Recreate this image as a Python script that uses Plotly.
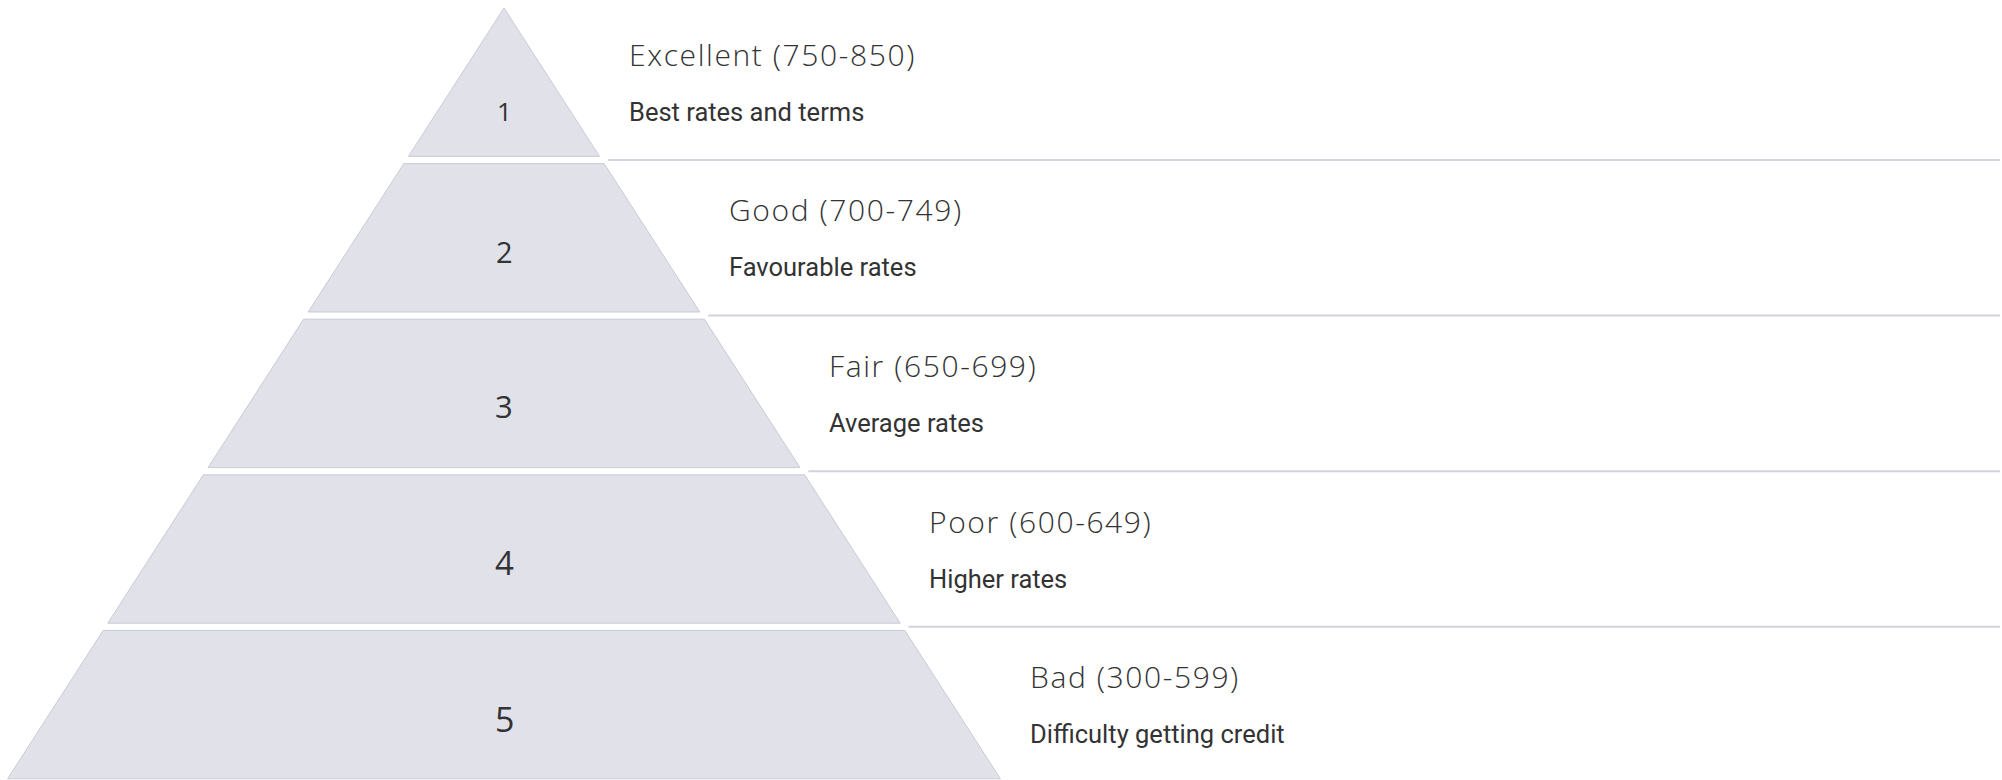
import plotly.graph_objects as go

# ---- data ----
levels = ["1", "2", "3", "4", "5"]
titles = ["Excellent (750-850)", "Good (700-749)", "Fair (650-699)", "Poor (600-649)", "Bad (300-599)"]
descriptions = ["Best rates and terms", "Favourable rates", "Average rates", "Higher rates", "Difficulty getting credit"]
number_sizes = [26, 29, 31, 33, 34]

# ---- geometry (layout, not data) ----
W, H = 2002, 780
apex_x, apex_y = 504, 8
slope = 0.644          # half-width per unit of depth
pitch = 155.6          # vertical pitch of each band
gap = 7.2              # white gap between bands
line_end = 2000

fill_col = "#e0e1e9"
edge_col = "#c9cbd5"
sep_col = "#d2d3db"
text_col = "#333333"

def half(y):
    return (y - apex_y) * slope

fig = go.Figure()
annotations = []
n = len(levels)
for i, lab in enumerate(levels):
    top = apex_y + i * pitch
    bot = top + pitch - gap
    ht, hb = half(top), half(bot)
    xs = [apex_x - ht, apex_x + ht, apex_x + hb, apex_x - hb, apex_x - ht]
    ys = [top, top, bot, bot, top]
    fig.add_trace(go.Scatter(x=xs, y=ys, mode="lines", fill="toself",
                             fillcolor=fill_col, line=dict(color=edge_col, width=1),
                             hoverinfo="skip"))
    h = bot - top
    cy = top + h * (ht + 2 * hb) / (3 * (ht + hb)) + 4 + 2 * i
    annotations.append(dict(x=apex_x, y=cy, text=lab, showarrow=False,
                            xanchor="center", yanchor="middle",
                            font=dict(family="Open Sans, sans-serif", size=number_sizes[i],
                                      color=text_col, weight=400)))
    mid = (top + bot) / 2
    tx = apex_x + half(mid) + 75
    annotations.append(dict(x=tx, y=mid - 28, text=f'<span style="letter-spacing:1.6px">{titles[i]}</span>',
                            showarrow=False, xanchor="left", yanchor="middle",
                            font=dict(family="Open Sans, sans-serif", size=30,
                                      color=text_col, weight=300)))
    annotations.append(dict(x=tx, y=mid + 29.5, text=descriptions[i], showarrow=False,
                            xanchor="left", yanchor="middle",
                            font=dict(family="Roboto, sans-serif", size=25.5, color=text_col)))
    if i < n - 1:
        sy = bot + gap / 2
        sx = apex_x + half(sy) + 6
        fig.add_trace(go.Scatter(x=[sx, line_end], y=[sy, sy], mode="lines",
                                 line=dict(color=sep_col, width=2), hoverinfo="skip"))

fig.update_layout(
    width=W, height=H, margin=dict(l=0, r=0, t=0, b=0),
    paper_bgcolor="white", plot_bgcolor="white", showlegend=False,
    xaxis=dict(range=[0, W], visible=False, fixedrange=True),
    yaxis=dict(range=[H, 0], visible=False, fixedrange=True),
    annotations=annotations,
)

fig.write_html("out.html", config={"displayModeBar": False},
               post_script="document.body.style.margin='0';document.body.style.overflow='hidden';")
